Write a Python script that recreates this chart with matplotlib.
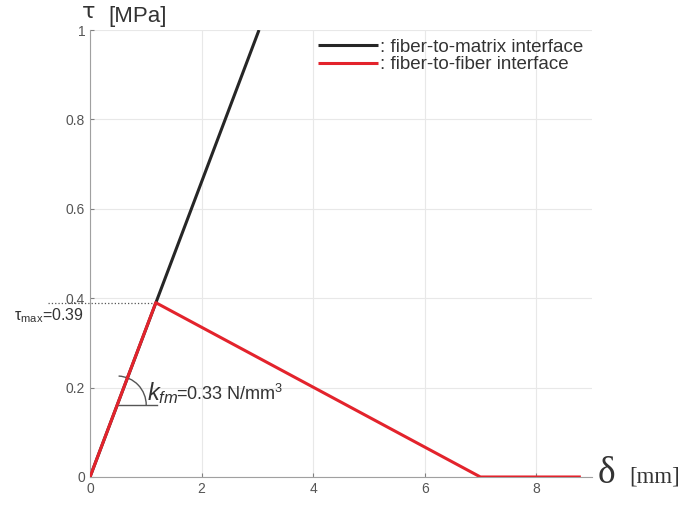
import numpy as np
import matplotlib.pyplot as plt
from matplotlib.patches import Arc

plt.rcParams['font.family'] = ['Liberation Sans', 'DejaVu Sans']
plt.rcParams['mathtext.fontset'] = 'custom'
plt.rcParams['mathtext.rm'] = 'Liberation Sans'
plt.rcParams['mathtext.it'] = 'Liberation Sans:italic'

# data
k_fm = 0.33
tau_max = 0.39
fm_delta = [0, 3.03]
fm_tau = [0, 1.0]
ff_delta = [0, 1.18, 7.0, 8.8]
ff_tau = [0, 0.39, 0, 0]
xticks = [0, 2, 4, 6, 8]
yticks = [0, 0.2, 0.4, 0.6, 0.8, 1]
ytick_labels = ['0', '0.2', '0.4', '0.6', '0.8', '1']

grey = '#808080'
txt = '#333333'

fig = plt.figure(figsize=(6.86, 5.07), dpi=100)
ax = fig.add_axes([90 / 686, 30 / 507, 502 / 686, 447 / 507])


def px(x, y):
    # figure pixel (from top-left) -> figure fraction
    return x / 686, 1 - y / 507


ax.plot(fm_delta, fm_tau, color='#262626', lw=2.2, label=': fiber-to-matrix interface',
        solid_capstyle='butt')
ax.plot(ff_delta, ff_tau, color='#e3232c', lw=2.2, label=': fiber-to-fiber interface',
        solid_capstyle='butt', zorder=3)

ax.set_xlim(0, 9)
ax.set_ylim(0, 1)
ax.set_xticks(xticks)
ax.set_yticks(yticks)
ax.set_yticklabels(ytick_labels)
ax.tick_params(direction='in', length=3, colors=grey, labelcolor='#555555', labelsize=10)
ax.grid(True, color='#e8e8e8', lw=0.8)
ax.set_axisbelow(True)
for s in ['top', 'right']:
    ax.spines[s].set_visible(False)
for s in ['left', 'bottom']:
    ax.spines[s].set_color('#a0a0a0')

# dotted line at tau_max
peak = ff_delta[1]
ax.plot([-0.75, peak], [tau_max, tau_max], ls=':', color='#555555', lw=0.9, clip_on=False)
fig.text(*px(84, 320), r'τ$_{\mathregular{max}}$=0.39', ha='right', va='baseline',
         fontsize=11.5, color=txt)

# stiffness angle mark
y0 = 0.161
x0 = y0 / k_fm
ax.plot([x0, 1.2], [y0, y0], color='#555555', lw=1.0)
r_px = 29
w = r_px * 2 / 55.78
h = r_px * 2 / 447
ang = np.degrees(np.arctan(k_fm * 447 / 55.78))
ax.add_patch(Arc((x0, y0), w, h, theta1=0, theta2=ang, color='#555555', lw=1.0))
fig.text(*px(147, 400), r'$k_{fm}$', fontsize=17, color=txt, va='baseline')
fig.text(*px(176, 400), r'=0.33 N/mm$^{3}$', fontsize=13, color=txt, va='baseline')

# axis labels
fig.text(*px(82, 18), 'τ', fontsize=16, color=txt, va='baseline', family='DejaVu Sans')
fig.text(*px(108, 22), '[MPa]', fontsize=16, color=txt, va='baseline')
fig.text(*px(598, 483), 'δ', fontsize=27, color=txt, va='baseline',
         family='Liberation Serif')
fig.text(*px(629, 483), '[mm]', fontsize=16.5, color=txt, va='baseline',
         family='Liberation Serif')

ax.legend(loc='upper right', bbox_to_anchor=(1.0, 1.0), frameon=False, fontsize=13.5,
          handlelength=3.2, handletextpad=0.15, labelspacing=0.02, borderaxespad=0.05,
          labelcolor=txt)

fig.savefig('out.png', dpi=100)
